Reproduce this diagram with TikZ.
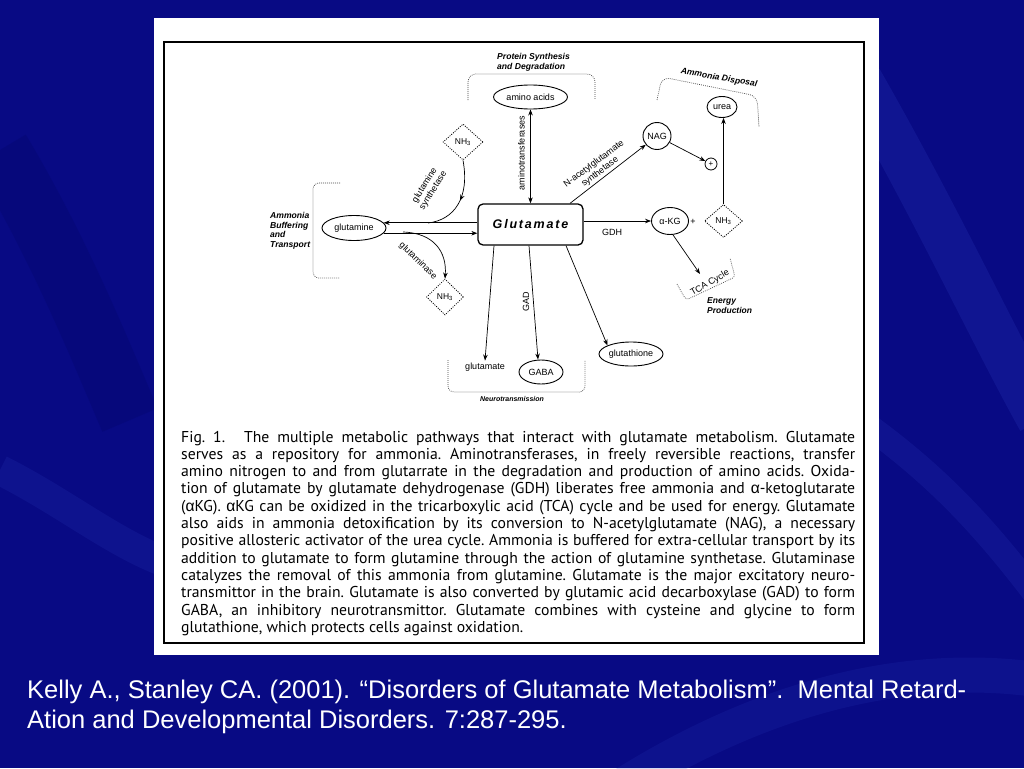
\documentclass[tikz,border=0pt]{standalone}
\usepackage{fontspec}
\newfontfamily\capfont{PT Sans}
\newfontfamily\dfont{Liberation Sans}
\usetikzlibrary{shapes.geometric,arrows.meta,decorations.markings}
\definecolor{slidebg}{RGB}{8,10,132}
\definecolor{slidelight}{RGB}{40,55,185}
\definecolor{slidedark}{RGB}{2,4,105}
\definecolor{dotgray}{RGB}{70,70,70}
\newcommand{\galpha}{{\dfont α}}
\begin{document}
\begin{tikzpicture}[x=1pt,y=-1pt,
  lbl/.style={font=\dfont\fontsize{9}{10}\selectfont, inner sep=0pt},
  bi/.style={font=\dfont\bfseries\itshape\fontsize{8.6}{9.7}\selectfont, inner sep=0pt},
  ell/.style={ellipse, draw, line width=0.9pt, inner sep=0pt, font=\dfont\fontsize{9}{10}\selectfont},
  nh/.style={diamond, draw, line width=0.8pt, dash pattern=on 1pt off 1.3pt, inner sep=0pt, font=\dfont\fontsize{8.5}{10}\selectfont},
  arr/.style={line width=0.7pt, -{Stealth[length=6pt,width=4.5pt]}},
  darr/.style={line width=0.7pt, {Stealth[length=6pt,width=4.5pt]}-{Stealth[length=6pt,width=4.5pt]}},
  dots/.style={line width=0.7pt, dash pattern=on 0.8pt off 1.2pt, dotgray},
  midarr/.style={line width=0.7pt, postaction={decorate}, decoration={markings, mark=at position 0.5 with {\arrow{Stealth[length=6pt,width=4.5pt]}}}}
]
\useasboundingbox (0,0) rectangle (1024,768);
% slide background
\fill[slidebg] (0,0) rectangle (1024,768);
\begin{scope}
\clip (0,0) rectangle (1024,768);
\draw[slidelight, line width=45pt, opacity=0.25] (860,80) .. controls (940,220) and (990,330) .. (1040,420);
\draw[slidelight, line width=25pt, opacity=0.22] (860,420) .. controls (930,470) and (980,520) .. (1040,600);
\draw[slidelight, line width=35pt, opacity=0.18] (600,800) .. controls (750,700) and (900,660) .. (1040,680);
\draw[slidelight, line width=30pt, opacity=0.2] (0,470) .. controls (60,500) and (110,540) .. (160,560);
\draw[slidedark, line width=60pt, opacity=0.3] (0,150) .. controls (60,250) and (100,350) .. (130,420);
\end{scope}
% white panel and frame
\fill[white] (154,18) rectangle (879,655);
\draw[line width=2pt] (164,42) rectangle (864,643);

% ---- diagram ----
\node[draw, rounded corners=5pt, line width=1.3pt, minimum width=105pt, minimum height=41pt, inner sep=0pt,
      font=\dfont\bfseries\itshape\fontsize{12.5}{14}\selectfont] (glu) at (530.5,224.5)
      {G\kern1.8pt l\kern1.8pt u\kern1.8pt t\kern1.8pt a\kern1.8pt m\kern1.8pt a\kern1.8pt t\kern1.8pt e};

% protein synthesis
\node[ell, minimum width=74pt, minimum height=24pt] (aa) at (530.5,97) {amino acids};
\node[bi, align=left, anchor=west] (psd) at (497,62) {Protein Synthesis\\and Degradation};
\draw[dots, rounded corners=8pt] (468,100) -- (468,74) -- (595,74) -- (595,100);
\draw[darr] (aa.south) -- (aa.south |- glu.north);
\node[lbl, rotate=90] (atl) at (521.5,153) {aminotransferases};

% ammonia buffering
\node[ell, minimum width=64pt, minimum height=25pt] (gln) at (354,228) {glutamine};
\node[bi, align=left, anchor=north west] (abt) at (270,212) {Ammonia\\Buffering\\and\\Transport};
\draw[dots, rounded corners=6pt] (340,183) -- (313,183) -- (313,278) -- (340,278);
\draw[arr] (glu.west |- gln.10) -- (gln.10);
\draw[arr] (gln.-10) -- (glu.west |- gln.-10);

\node[nh, minimum width=40pt, minimum height=36pt] (nh1) at (463,142) {NH\textsubscript{3}};
\coordinate (gsEnd) at (428,223);
\draw[midarr] (nh1.south) .. controls (470,198) and (454,220) .. (gsEnd);
\node[lbl, rotate=58, align=center] (gsl) at (429,188) {glutamine\\synthetase};

\node[nh, minimum width=37pt, minimum height=36pt] (nh2) at (445,297) {NH\textsubscript{3}};
\coordinate (gaStart) at (403,232);
\draw[arr] (gaStart) .. controls (434,233) and (447,252) .. (nh2.north);
\node[lbl, rotate=-44] (gal) at (418,261) {glutaminase};

% GDH / energy
\node[ell, minimum width=37pt, minimum height=27pt] (akg) at (670,221) {α-KG};
\draw[arr] (glu.east |- akg.west) -- (akg.west);
\node[lbl] (gdh) at (612,232) {GDH};
\node[lbl] (pl1) at (693,222) {+};
\node[nh, minimum width=38pt, minimum height=33pt] (nh3) at (723.5,221) {NH\textsubscript{3}};
\node[lbl, rotate=30] (tca) at (710,283) {TCA Cycle};
\coordinate (tcaIn) at (700,274);
\draw[arr] (akg.-78) -- (tcaIn);
\draw[dots, rounded corners=3pt] (677,284) -- (686,300) -- (735,277) -- (730,258);
\node[bi, align=left, anchor=north west, font=\dfont\bfseries\itshape\fontsize{8.5}{10}\selectfont] (enp) at (707,297) {Energy\\Production};

% ammonia disposal
\node[ell, minimum width=28pt, minimum height=27pt] (nag) at (657,136) {NAG};
\draw[arr] (glu.north -| 570,0) -- (nag);
\node[lbl, rotate=37, align=center] (nagl) at (597,168) {N-acetylglutamate\\synthetase};
\node[circle, draw, line width=0.8pt, minimum size=12pt, inner sep=0pt, font=\dfont\fontsize{8}{9}\selectfont] (plus) at (711,164) {+};
\draw[arr] (nag) -- (plus);
\node[ell, minimum width=30pt, minimum height=21pt] (urea) at (722,107) {urea};
\draw[arr] (nh3.north) -- (nh3.north |- urea.south);
\node[bi, rotate=-10] (adl) at (719,78) {Ammonia Disposal};
\draw[dots, rounded corners=8pt] (657,100) -- (662,77) -- (757,96) -- (759,127);

% neurotransmission
\node[lbl, inner sep=2pt] (gltt) at (485,367) {glutamate};
\draw[arr] (glu.south -| 494,0) -- (gltt.north);
\node[ell, minimum width=44pt, minimum height=24pt] (gaba) at (541,372) {GABA};
\draw[arr] (glu.south -| 529,0) -- (gaba.north -| 538,0);
\node[lbl, rotate=90] (gadl) at (526,302) {GAD};
\node[ell, minimum width=64pt, minimum height=24pt] (gsh) at (631,354) {glutathione};
\draw[arr] (glu.south -| 566,0) -- (gsh.160);
\draw[dots, rounded corners=6pt] (448,360) -- (448,392) -- (585,392) -- (585,360);
\node[bi, font=\dfont\bfseries\itshape\fontsize{7}{8}\selectfont] (ntl) at (512,399) {Neurotransmission};

% ---- caption ----
\node[anchor=base west, inner sep=0pt, text width=674pt, align=justify,
      font=\capfont\fontsize{15.7}{17.3}\selectfont\frenchspacing] (cap) at (181,442)
{Fig. 1.\hspace{0.7em} The multiple metabolic pathways that interact with glutamate metabolism. Glutamate\linebreak
serves as a repository for ammonia. Aminotransferases, in freely reversible reactions, transfer\linebreak
amino nitrogen to and from glutarrate in the degradation and production of amino acids. Oxida-\linebreak
tion of glutamate by glutamate dehydrogenase (GDH) liberates free ammonia and \galpha-ketoglutarate\linebreak
(\galpha KG). \galpha KG can be oxidized in the tricarboxylic acid (TCA) cycle and be used for energy. Glutamate\linebreak
also aids in ammonia detoxification by its conversion to N-acetylglutamate (NAG), a necessary\linebreak
positive allosteric activator of the urea cycle. Ammonia is buffered for extra-cellular transport by its\linebreak
addition to glutamate to form glutamine through the action of glutamine synthetase. Glutaminase\linebreak
catalyzes the removal of this ammonia from glutamine. Glutamate is the major excitatory neuro-\linebreak
transmittor in the brain. Glutamate is also converted by glutamic acid decarboxylase (GAD) to form\linebreak
GABA, an inhibitory neurotransmittor. Glutamate combines with cysteine and glycine to form\linebreak
glutathione, which protects cells against oxidation.};

% ---- citation ----
\node[anchor=base west, inner sep=0pt, align=left, text=white,
      font=\dfont\fontsize{25.5}{30}\selectfont] (cite) at (27,728)
{Kelly A., Stanley CA. (2001). “Disorders of Glutamate Metabolism”.\ \ Mental Retard-\\
Ation and Developmental Disorders. 7:287-295.};
\end{tikzpicture}
\end{document}
